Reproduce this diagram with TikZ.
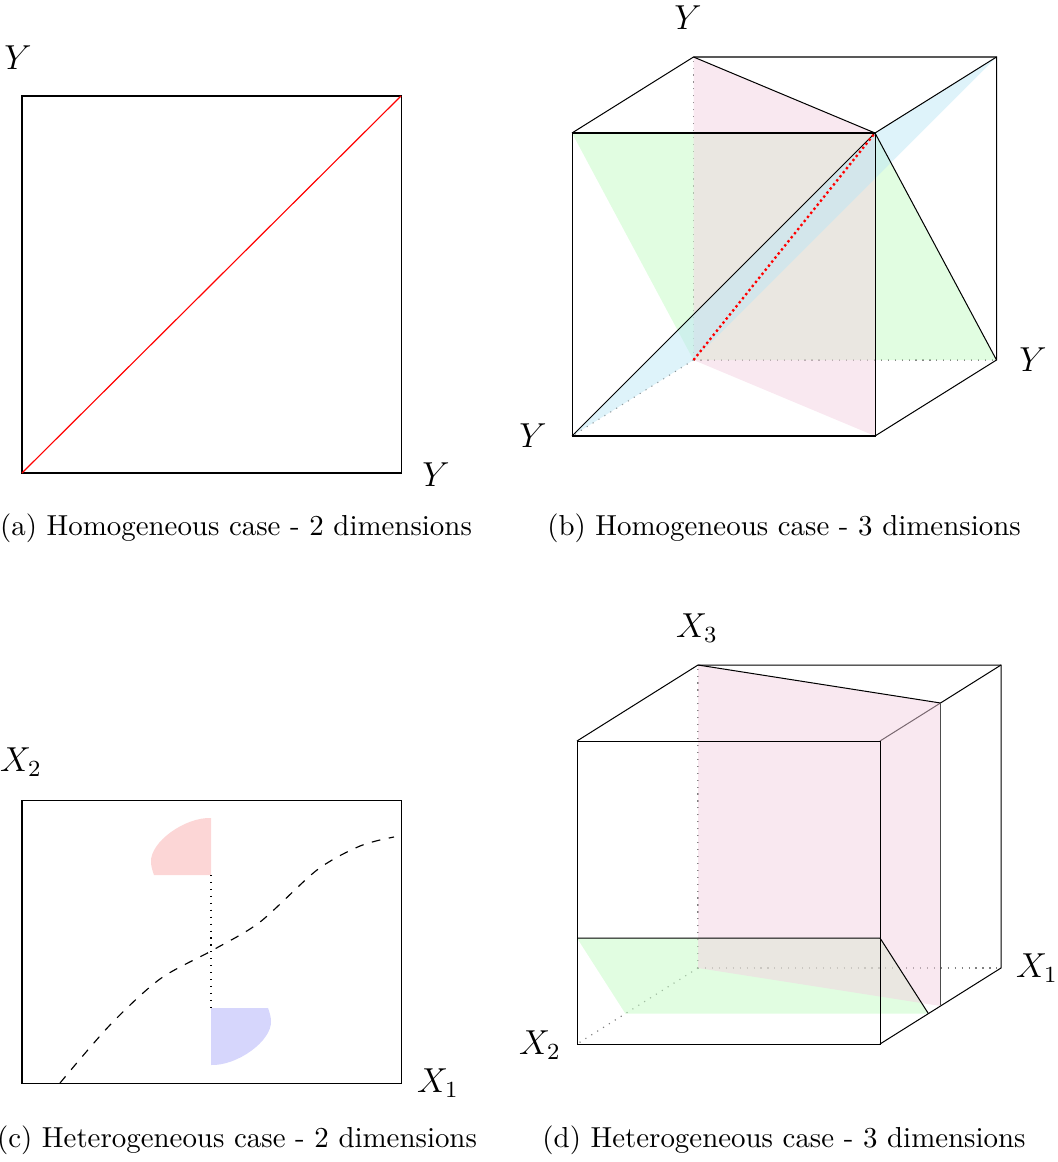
\documentclass[tikz,border=0pt]{standalone}
\usepackage{tikz}
\usetikzlibrary{calc}

\definecolor{planepink}{RGB}{243,209,225}
\definecolor{planegreen}{RGB}{195,251,195}
\definecolor{planeblue}{RGB}{189,231,245}
\definecolor{regionred}{RGB}{252,214,214}
\definecolor{regionblue}{RGB}{214,214,252}

\begin{document}
\begin{tikzpicture}[
  x=0.346pt, y=-0.346pt,
  edge/.style={draw=black, line width=0.35pt},
  hidden/.style={draw=gray, dotted},
  plane/.style={fill opacity=0.5},
  axislab/.style={font=\large},
  caplab/.style={font=\normalsize}
]
  \useasboundingbox (0,0) rectangle (1058,1162);

  % (a) homogeneous, 2 dimensions
  \coordinate (aBL) at (22,473);
  \coordinate (aTR) at (401,96);
  \draw[edge] (aBL) rectangle (aTR);
  \draw[red] (aBL) -- (aTR);
  \node[axislab] (aY1) at (18,58) {$Y$};
  \node[axislab] (aY2) at (436,475) {$Y$};
  \node[caplab] (capA) at (236,528) {(a) Homogeneous case - 2 dimensions};

  % (b) homogeneous, 3 dimensions
  \coordinate (b1) at (572,436);
  \coordinate (b2) at (875,436);
  \coordinate (b3) at (875,133);
  \coordinate (b4) at (572,133);
  \coordinate (b5) at (693.5,360);
  \coordinate (b6) at (996.5,360);
  \coordinate (b7) at (996.5,57);
  \coordinate (b8) at (693.5,57);
  \draw[hidden] (b5) -- (b8);
  \draw[hidden] (b5) -- (b6);
  \draw[hidden] (b5) -- (b1);
  \fill[planegreen, plane] (b4) -- (b3) -- (b6) -- (b5) -- cycle;
  \fill[planepink, plane] (b8) -- (b3) -- (b2) -- (b5) -- cycle;
  \fill[planeblue, plane] (b1) -- (b3) -- (b7) -- (b5) -- cycle;
  \draw[edge] (b1) -- (b2) -- (b3) -- (b4) -- cycle;
  \draw[edge] (b4) -- (b8) -- (b7) -- (b6) -- (b2);
  \draw[edge] (b3) -- (b7);
  \draw[edge] (b8) -- (b3);
  \draw[edge] (b3) -- (b6);
  \draw[edge] (b1) -- (b3);
  \draw[red, densely dotted, thick] (b5) -- (b3);
  \node[axislab] (bY1) at (688,18) {$Y$};
  \node[axislab] (bY2) at (1033,360) {$Y$};
  \node[axislab] (bY3) at (533,436) {$Y$};
  \node[caplab] (capB) at (784,528) {(b) Homogeneous case - 3 dimensions};

  % (c) heterogeneous, 2 dimensions
  \coordinate (cBL) at (22,1083);
  \coordinate (cTR) at (401,800);
  \coordinate (redbase) at (211,875);
  \coordinate (bluetop) at (211,1008);
  \fill[regionred] (211,818) .. controls (185,817) and (150,842) .. (151,862)
    .. controls (151,867) and (153,872) .. (154,875) -- (redbase) -- cycle;
  \fill[regionblue] (211,1065) .. controls (237,1066) and (272,1041) .. (271,1021)
    .. controls (271,1016) and (269,1011) .. (268,1008) -- (bluetop) -- cycle;
  \draw[dotted] (redbase) -- (bluetop);
  \draw[dashed] plot[smooth] coordinates {(60,1083) (110,1025) (160,979) (213,950)
    (260,922) (317,870) (360,846) (394,837)};
  \draw[edge] (cBL) rectangle (cTR);
  \node[axislab] (cX2) at (21,762) {$X_2$};
  \node[axislab] (cX1) at (438,1083) {$X_1$};
  \node[caplab] (capC) at (237,1140) {(c) Heterogeneous case - 2 dimensions};

  % (d) heterogeneous, 3 dimensions
  \coordinate (d1) at (577,1044);
  \coordinate (d2) at (880,1044);
  \coordinate (d3) at (880,741);
  \coordinate (d4) at (577,741);
  \coordinate (d5) at (698,968);
  \coordinate (d6) at (1001,968);
  \coordinate (d7) at (1001,665);
  \coordinate (d8) at (698,665);
  \coordinate (m1) at (940.5,703);
  \coordinate (m2) at (940.5,1006);
  \coordinate (g1) at (577,938);
  \coordinate (g2) at (880,938);
  \coordinate (g3) at (928.4,1013.6);
  \coordinate (g4) at (625.4,1013.6);
  \draw[hidden] (d5) -- (d8);
  \draw[hidden] (d5) -- (d6);
  \draw[hidden] (d5) -- (d1);
  \draw[edge] (d3) -- (d7);
  \fill[planegreen, plane] (g1) -- (g2) -- (g3) -- (g4) -- cycle;
  \fill[planepink, plane] (d8) -- (m1) -- (m2) -- (d5) -- cycle;
  \draw[edge] (d1) -- (d2) -- (d3) -- (d4) -- cycle;
  \draw[edge] (d4) -- (d8) -- (d7) -- (d6) -- (d2);
  \draw[edge] (d8) -- (m1);
  \draw[edge, draw=black!70] (m1) -- (m2);
  \draw[edge] (g1) -- (g2) -- (g3);
  \node[axislab] (dX3) at (697,628) {$X_3$};
  \node[axislab] (dX1) at (1037,968) {$X_1$};
  \node[axislab] (dX2) at (540,1045) {$X_2$};
  \node[caplab] (capD) at (784,1140) {(d) Heterogeneous case - 3 dimensions};
\end{tikzpicture}
\end{document}
